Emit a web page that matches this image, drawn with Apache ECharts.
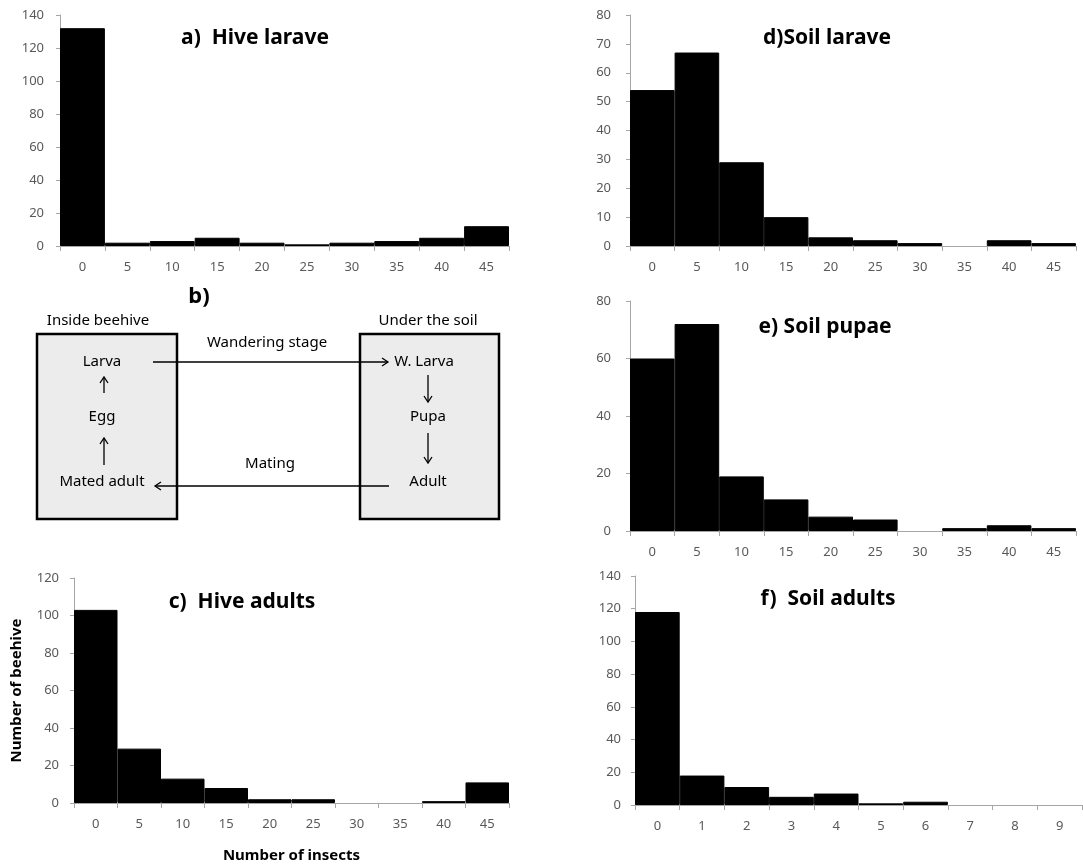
<!DOCTYPE html>
<html lang="en">
<head>
    <meta charset="UTF-8">
    <title>Beehive insects</title>
    <script src="https://cdn.jsdelivr.net/npm/echarts@6/dist/echarts.min.js"></script>
    <style>
        html, body { margin: 0; padding: 0; background: #fff; }
        #main { width: 1083px; height: 864px; }
    </style>
</head>
<body>
<div id="main"></div>
<script>
    // bins (number of insects)
    const bins = ['0', '5', '10', '15', '20', '25', '30', '35', '40', '45'];
    const adultBins = ['0', '1', '2', '3', '4', '5', '6', '7', '8', '9'];

    // number of beehives per bin
    const hiveLarvae = [132, 2, 3, 5, 2, 1, 2, 3, 5, 12];
    const soilLarvae = [54, 67, 29, 10, 3, 2, 1, 0, 2, 1];
    const soilPupae = [60, 72, 19, 11, 5, 4, 0, 1, 2, 1];
    const hiveAdults = [103, 29, 13, 8, 2, 2, 0, 0, 1, 11];
    const soilAdults = [118, 18, 11, 5, 7, 1, 2, 0, 0, 0];

    const FONT = '"Noto Sans", sans-serif';
    const axisGray = '#a6a6a6';
    const labelGray = '#595959';

    let myChart = echarts.init(document.getElementById('main'));

    function xAx(idx, cats) {
        return {
            type: 'category', gridIndex: idx, data: cats,
            axisLine: {lineStyle: {color: axisGray, width: 1}},
            axisTick: {show: true, length: 5, lineStyle: {color: axisGray}},
            splitLine: {show: false},
            axisLabel: {color: labelGray, fontSize: 13, fontFamily: FONT, margin: 15}
        };
    }
    function yAx(idx, max, step, gap) {
        return {
            type: 'value', gridIndex: idx, min: 0, max: max, interval: step,
            splitLine: {show: false},
            axisLine: {show: true, lineStyle: {color: axisGray, width: 1}},
            axisTick: {show: true, length: 4, lineStyle: {color: axisGray}},
            axisLabel: {color: labelGray, fontSize: 13, fontFamily: FONT, margin: gap}
        };
    }
    function bars(idx, vals) {
        // empty bins get no outline, so nothing is drawn on the axis
        let data = vals.map(v => v === 0 ? {value: 0, itemStyle: {borderWidth: 0}} : v);
        return {
            type: 'bar', xAxisIndex: idx, yAxisIndex: idx, data: data,
            barCategoryGap: '0%', silent: true,
            itemStyle: {color: '#000', borderColor: '#000', borderWidth: 1}
        };
    }
    function label(text, x, y, size, bold) {
        return {
            type: 'text', x: x, y: y, silent: true,
            style: {
                text: text, fill: '#000', textAlign: 'center', textVerticalAlign: 'middle',
                font: (bold ? 'bold ' : '') + size + 'px ' + FONT
            }
        };
    }
    function hline(x1, x2, y) {
        return {type: 'line', shape: {x1: x1, y1: y, x2: x2, y2: y}, style: {stroke: '#000', lineWidth: 1.3}, silent: true};
    }
    function vline(x, y1, y2) {
        return {type: 'line', shape: {x1: x, y1: y1, x2: x, y2: y2}, style: {stroke: '#000', lineWidth: 1.3}, silent: true};
    }
    function head(points) {
        return {type: 'polyline', shape: {points: points}, style: {stroke: '#000', lineWidth: 1.3, fill: null}, silent: true};
    }

    let xAxes = [xAx(0, bins), xAx(1, bins), xAx(2, bins), xAx(3, bins), xAx(4, adultBins)];
    xAxes[3].name = 'Number of insects';
    xAxes[3].nameLocation = 'middle';
    xAxes[3].nameGap = 45;
    xAxes[3].nameTextStyle = {color: '#000', fontWeight: 'bold', fontSize: 15, fontFamily: FONT};

    let yAxes = [yAx(0, 140, 20, 16), yAx(1, 80, 10, 19), yAx(2, 80, 20, 19), yAx(3, 120, 20, 15), yAx(4, 140, 20, 14)];
    yAxes[3].name = 'Number of beehive';
    yAxes[3].nameLocation = 'middle';
    yAxes[3].nameRotate = 90;
    yAxes[3].nameGap = 50;
    yAxes[3].nameTextStyle = {color: '#000', fontWeight: 'bold', fontSize: 15, fontFamily: FONT};

    let option = {
        backgroundColor: '#fff',
        animation: false,
        grid: [
            {left: 60, top: 15, width: 449, height: 231},
            {left: 630, top: 15, width: 446, height: 231},
            {left: 630, top: 301, width: 446, height: 230},
            {left: 74, top: 578, width: 435, height: 227},
            {left: 635, top: 576, width: 447, height: 229}
        ],
        xAxis: xAxes,
        yAxis: yAxes,
        series: [
            bars(0, hiveLarvae),
            bars(1, soilLarvae),
            bars(2, soilPupae),
            bars(3, hiveAdults),
            bars(4, soilAdults)
        ],
        graphic: [
            // panel titles
            label('a)  Hive larave', 255, 38, 21, true),
            label('d)Soil larave', 827, 38, 21, true),
            label('e) Soil pupae', 825, 327, 21, true),
            label('c)  Hive adults', 242, 602, 21, true),
            label('f)  Soil adults', 828, 599, 21, true),
            // b) life cycle diagram
            label('b)', 199, 297, 22, true),
            {type: 'rect', shape: {x: 37, y: 334, width: 140, height: 185}, style: {fill: '#ececec', stroke: '#000', lineWidth: 2.5}, silent: true},
            {type: 'rect', shape: {x: 360, y: 334, width: 139, height: 185}, style: {fill: '#ececec', stroke: '#000', lineWidth: 2.5}, silent: true},
            label('Inside beehive', 98, 321, 15, false),
            label('Under the soil', 428, 321, 15, false),
            label('Larva', 102, 362, 15, false),
            label('Egg', 102, 417, 15, false),
            label('Mated adult', 102, 482, 15, false),
            label('W. Larva', 424, 362, 15, false),
            label('Pupa', 428, 417, 15, false),
            label('Adult', 428, 482, 15, false),
            label('Wandering stage', 267, 343, 15, false),
            label('Mating', 270, 464, 15, false),
            // horizontal arrows
            hline(153, 388, 362),
            head([[382, 358], [388, 362], [382, 366]]),
            hline(155, 389, 486),
            head([[161, 482], [155, 486], [161, 490]]),
            // vertical arrows left (up)
            vline(104, 393, 377),
            head([[100, 383], [104, 377], [108, 383]]),
            vline(104, 465, 438),
            head([[100, 444], [104, 438], [108, 444]]),
            // vertical arrows right (down)
            vline(428, 375, 402),
            head([[424, 396], [428, 402], [432, 396]]),
            vline(428, 433, 463),
            head([[424, 457], [428, 463], [432, 457]])
        ]
    };
    myChart.setOption(option);
</script>
</body>
</html>
